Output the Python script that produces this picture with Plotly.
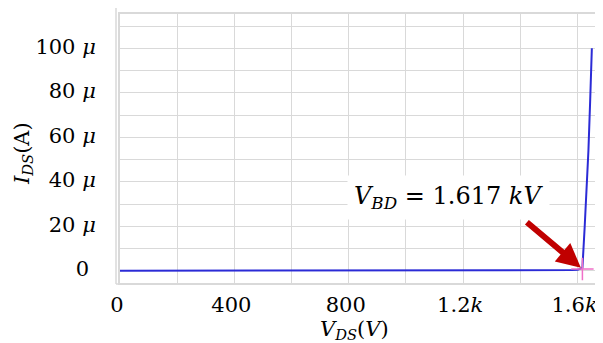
import plotly.graph_objects as go

# ---- data ----
vds = [0, 200, 400, 600, 800, 1000, 1200, 1400, 1500, 1550, 1580, 1600, 1610, 1617,
       1625, 1632, 1638, 1644, 1650]
ids_uA = [0.1, 0.1, 0.1, 0.1, 0.1, 0.1, 0.1, 0.1, 0.1, 0.2, 0.4, 0.6, 0.9, 1.3,
          20, 38, 54, 76, 100]
ids = [v * 1e-6 for v in ids_uA]

bd_v = 1617
bd_i = 0.9e-6
bd_label = "<i>V</i><sub><i>BD</i></sub> = 1.617 <i>kV</i>"
x_title = "<i>V</i><sub><i>DS</i></sub>(<i>V</i>)"
y_title = "<i>I</i><sub><i>DS</i></sub>(A)"

x_tickvals = [0, 400, 800, 1200, 1600]
x_ticktext = ["0", "400", "800", "1.2<i>k</i>", "1.6<i>k</i>"]
y_tickvals = [0, 20e-6, 40e-6, 60e-6, 80e-6, 100e-6]
y_ticktext = ["0\u00a0", "20 <i>μ</i>", "40 <i>μ</i>", "60 <i>μ</i>",
              "80 <i>μ</i>", "100 <i>μ</i>"]

FONT = "DejaVu Serif"
GRID = "#d9d9d9"

# the page body has an 8px default margin, so the figure is drawn 8px in from the window edge
W, H = 595, 335
PW, PH = 483, 269

fig = go.Figure()
fig.add_trace(go.Scatter(x=vds, y=ids, mode="lines",
                         line=dict(color="#2b2bd6", width=2), showlegend=False))
fig.add_trace(go.Scatter(x=[bd_v], y=[bd_i], mode="markers", showlegend=False,
                         marker=dict(symbol="cross-thin", size=16,
                                     line=dict(color="#f070c8", width=1.5))))

fig.add_annotation(x=bd_v, y=bd_i, xref="x", yref="y", text="", showarrow=True,
                   ax=-57, ay=-48, arrowcolor="#c00000", arrowwidth=6,
                   arrowhead=2, arrowsize=0.8, standoff=2)
fig.add_annotation(x=1147, y=33.0e-6, xref="x", yref="y", text=bd_label,
                   showarrow=False, bgcolor="white", borderpad=6,
                   font=dict(family=FONT, size=24, color="black"))

# axis titles
fig.add_annotation(x=0.4865, y=-0.175, xref="paper", yref="paper", text=x_title,
                   showarrow=False, xanchor="center", yanchor="middle",
                   font=dict(family=FONT, size=21, color="black"))
fig.add_annotation(x=-0.201, y=0.483, xref="paper", yref="paper", text=y_title,
                   showarrow=False, textangle=-90, xanchor="center", yanchor="middle",
                   font=dict(family=FONT, size=21, color="black"))

fig.update_layout(
    width=W, height=H,
    margin=dict(l=112, r=0, t=6, b=60),
    paper_bgcolor="white", plot_bgcolor="white",
    font=dict(family=FONT, size=21, color="black"),
    xaxis=dict(range=[0, 1689], tickvals=x_tickvals, ticktext=x_ticktext,
               automargin=False,
               showgrid=True, gridcolor=GRID, gridwidth=1,
               minor=dict(dtick=200, tick0=0, showgrid=True, gridcolor=GRID, gridwidth=1),
               zeroline=False, showline=True, linecolor=GRID, linewidth=2, mirror=True,
               ticks="", ticklabelstandoff=2, ticklabelshift=-3),
    yaxis=dict(range=[-5.4e-6, 115.4e-6], tickvals=y_tickvals, ticktext=y_ticktext,
               automargin=False,
               showgrid=True, gridcolor=GRID, gridwidth=1,
               minor=dict(dtick=10e-6, tick0=0, showgrid=True, gridcolor=GRID, gridwidth=1),
               zeroline=False, showline=True, linecolor=GRID, linewidth=2, mirror=False,
               ticks="", ticklabelstandoff=18, ticklabelshift=-2),
    shapes=[
        dict(type="line", xref="paper", yref="paper", x0=-4/PW, x1=-4/PW,
             y0=-1/PH, y1=1 + 6/PH, line=dict(color=GRID, width=1.5)),
        dict(type="line", xref="paper", yref="paper", x0=-4/PW, x1=1,
             y0=-1/PH, y1=-1/PH, line=dict(color=GRID, width=1.5)),
    ],
)

fig.write_html("out.html")
